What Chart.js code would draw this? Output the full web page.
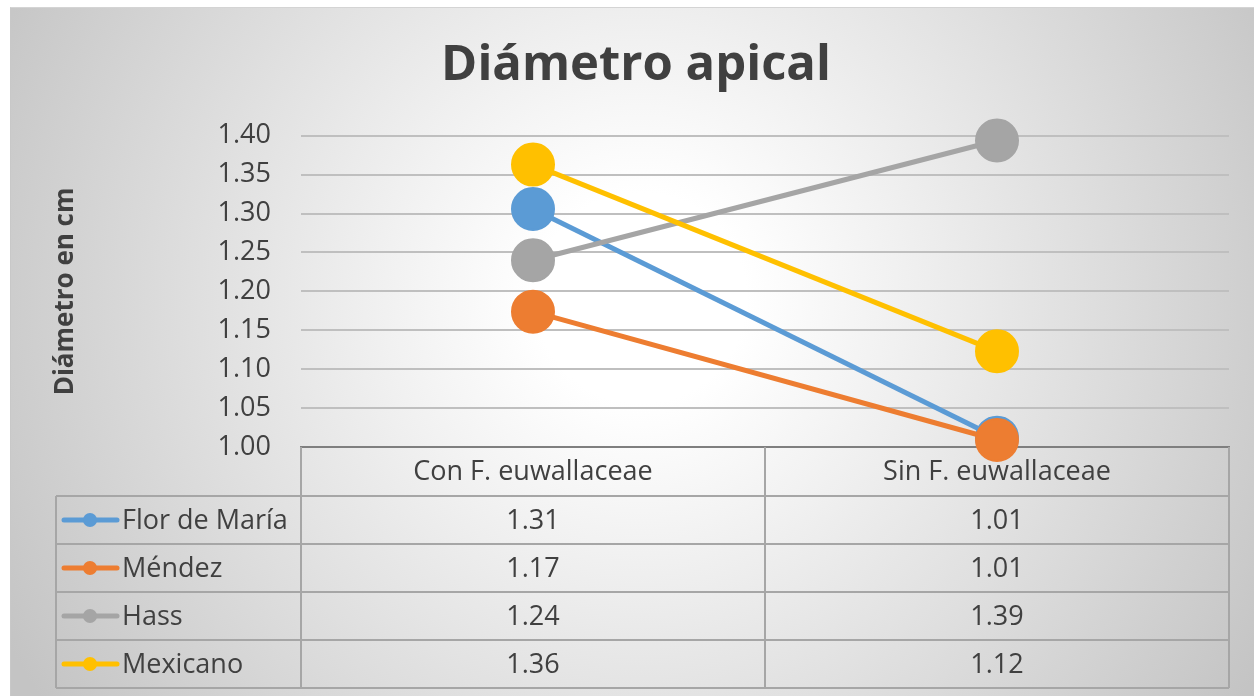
<!DOCTYPE html>
<html lang="es">
<head>
  <meta charset="utf-8" />
  <title>Diámetro apical</title>
  <script src="https://cdn.jsdelivr.net/npm/chart.js@4.4.1/dist/chart.umd.min.js"></script>
  <style>
    html, body { margin: 0; padding: 0; background: #fff; }
    body { width: 1254px; height: 696px; position: relative; overflow: hidden; }
    .bg {
      position: absolute; left: 10px; top: 7px; width: 1260px; height: 700px;
      border-top: 1px solid #d4d4d4; border-left: 1px solid #c8c8c8;
      background: radial-gradient(circle farthest-corner at 630px 290px, #ffffff 0%, #ffffff 14%, #f1f1f1 34%, #c4c4c4 96%);
    }
    canvas { position: absolute; left: 0; top: 0; }
  </style>
</head>
<body>
  <div class="bg"></div>
  <canvas id="chart" width="1254" height="696"></canvas>
  <script>
    // --- data ---
    const categories = ['Con F. euwallaceae', 'Sin F. euwallaceae']
    const seriesNames = ['Flor de María', 'Méndez', 'Hass', 'Mexicano']
    const florDeMaria = [1.306, 1.012]
    const mendez = [1.174, 1.009]
    const hass = [1.240, 1.394]
    const mexicano = [1.363, 1.123]
    const yTicks = [1.00, 1.05, 1.10, 1.15, 1.20, 1.25, 1.30, 1.35, 1.40]

    const colors = ['#5B9BD5', '#ED7D31', '#A5A5A5', '#FFC000']
    const values = [florDeMaria, mendez, hass, mexicano]
    const textColor = '#404040'
    const font = 'Open Sans'

    // data table under the plot, laid out from the x scale
    const dataTable = {
      id: 'dataTable',
      beforeDatasetsDraw(chart) {
        const { ctx, chartArea: a, scales: { x } } = chart
        const headH = 49
        const rowH = 48
        const tableLeft = 56
        const headBottom = a.bottom + headH
        const tableBottom = headBottom + rowH * seriesNames.length
        const mids = categories.map((_, i) => x.getPixelForValue(i))
        const bounds = mids.map((m, i) => (i === 0 ? a.left : (mids[i - 1] + m) / 2))
        bounds.push(a.right)

        ctx.save()
        ctx.strokeStyle = '#a6a6a6'
        ctx.lineWidth = 2
        ctx.beginPath()
        bounds.forEach((bx) => {
          ctx.moveTo(bx, a.bottom)
          ctx.lineTo(bx, tableBottom)
        })
        ctx.moveTo(tableLeft, headBottom)
        ctx.lineTo(tableLeft, tableBottom)
        for (let r = 0; r <= seriesNames.length; r++) {
          const y = headBottom + r * rowH
          ctx.moveTo(tableLeft, y)
          ctx.lineTo(a.right, y)
        }
        ctx.stroke()

        ctx.fillStyle = textColor
        ctx.font = `27px "${font}"`
        ctx.textAlign = 'center'
        ctx.textBaseline = 'middle'
        categories.forEach((c, i) => ctx.fillText(c, mids[i], a.bottom + headH / 2 + 1))

        seriesNames.forEach((name, r) => {
          const cy = headBottom + r * rowH + rowH / 2 + 1
          values[r].forEach((v, i) => {
            ctx.fillStyle = textColor
            ctx.textAlign = 'center'
            ctx.fillText(v.toFixed(2), mids[i], cy)
          })
          // legend key
          ctx.strokeStyle = colors[r]
          ctx.lineWidth = 5
          ctx.lineCap = 'round'
          ctx.beginPath()
          ctx.moveTo(64, cy - 1)
          ctx.lineTo(117, cy - 1)
          ctx.stroke()
          ctx.fillStyle = colors[r]
          ctx.beginPath()
          ctx.arc(90, cy - 1, 7, 0, Math.PI * 2)
          ctx.fill()
          ctx.fillStyle = textColor
          ctx.textAlign = 'left'
          ctx.fillText(name, 122, cy)
        })
        ctx.restore()
      },
    }

    new Chart(document.getElementById('chart'), {
      type: 'line',
      data: {
        labels: categories,
        datasets: seriesNames.map((name, i) => ({
          label: name,
          data: values[i],
          borderColor: colors[i],
          backgroundColor: colors[i],
          borderWidth: 5,
          pointRadius: 21,
          pointBorderWidth: 2,
          pointBorderColor: colors[i],
          pointBackgroundColor: colors[i],
          order: seriesNames.length - i,
          clip: false,
          tension: 0,
        })),
      },
      options: {
        responsive: false,
        devicePixelRatio: 1,
        animation: false,
        layout: { padding: { left: 18, right: 0, top: 0, bottom: 241 } },
        plugins: {
          legend: { display: false },
          tooltip: { enabled: false },
          title: {
            display: true,
            text: 'Diámetro apical',
            color: textColor,
            font: { family: font, size: 49, weight: 'bold', lineHeight: 1.2 },
            padding: { top: 37, bottom: 40 },
          },
        },
        scales: {
          x: {
            type: 'category',
            offset: true,
            ticks: { display: false },
            grid: { display: false },
            border: { display: true, color: '#7f7f7f', width: 2 },
          },
          y: {
            min: yTicks[0],
            max: yTicks[yTicks.length - 1],
            afterFit: (scale) => { scale.width = 283 },
            afterBuildTicks: (scale) => { scale.ticks = yTicks.map((v) => ({ value: v })) },
            ticks: {
              padding: 30,
              color: textColor,
              font: { family: font, size: 27 },
              callback: (v) => Number(v).toFixed(2),
            },
            grid: { color: '#bfbfbf', lineWidth: 2, drawTicks: false },
            border: { display: false },
            title: {
              display: true,
              text: 'Diámetro en cm',
              color: textColor,
              font: { family: font, size: 26, weight: 'bold', lineHeight: 1.2 },
              padding: { top: 32 },
            },
          },
          // empty right-hand axis that only reserves the right margin
          yRight: {
            position: 'right',
            min: yTicks[0],
            max: yTicks[yTicks.length - 1],
            afterFit: (scale) => { scale.width = 25 },
            ticks: { display: false },
            grid: { display: false, drawTicks: false },
            border: { display: false },
          },
        },
      },
      plugins: [dataTable],
    })
  </script>
</body>
</html>
